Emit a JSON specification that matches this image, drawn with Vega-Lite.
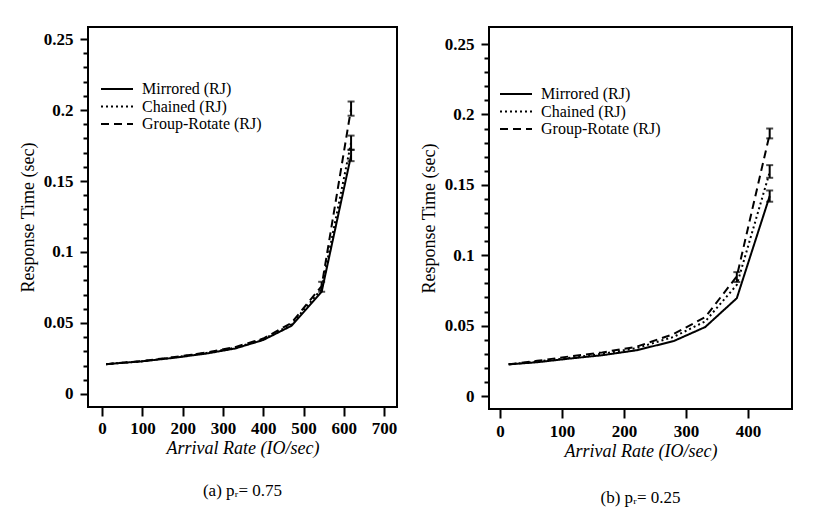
{
  "$schema": "https://vega.github.io/schema/vega-lite/v6.json",
  "background": "white",
  "padding": {"left": 18, "top": 26, "right": 5, "bottom": 5},
  "spacing": 21,
  "config": {
    "font": "Liberation Serif",
    "view": {"stroke": "black", "strokeWidth": 2},
    "axis": {
      "domain": false,
      "grid": false,
      "tickColor": "black",
      "tickWidth": 2,
      "tickCount": 100,
      "labelOverlap": false,
      "labelBound": false,
      "labelFont": "Liberation Serif",
      "labelFontWeight": "bold",
      "labelFontSize": 17,
      "labelColor": "black",
      "titleFont": "Liberation Serif",
      "titleFontSize": 18,
      "titleFontWeight": "normal",
      "titleColor": "black"
    },
    "legend": {
      "orient": "none",
      "title": null,
      "padding": 0,
      "symbolType": "stroke",
      "symbolSize": 1024,
      "symbolStrokeWidth": 2,
      "symbolStrokeColor": "black",
      "clipHeight": 16,
      "labelFont": "Liberation Serif",
      "labelFontSize": 16,
      "labelColor": "black",
      "labelOffset": 8,
      "rowPadding": 1.5
    },
    "title": {"font": "Liberation Serif", "fontSize": 17, "fontWeight": "normal", "color": "black"}
  },
  "datasets": {
    "a": [
      {"series": "Mirrored (RJ)", "x": 10, "y": 0.021},
      {"series": "Mirrored (RJ)", "x": 100, "y": 0.023},
      {"series": "Mirrored (RJ)", "x": 180, "y": 0.0255},
      {"series": "Mirrored (RJ)", "x": 260, "y": 0.0285},
      {"series": "Mirrored (RJ)", "x": 330, "y": 0.032},
      {"series": "Mirrored (RJ)", "x": 400, "y": 0.038},
      {"series": "Mirrored (RJ)", "x": 470, "y": 0.048},
      {"series": "Mirrored (RJ)", "x": 545, "y": 0.072},
      {"series": "Mirrored (RJ)", "x": 618, "y": 0.168},
      {"series": "Chained (RJ)", "x": 10, "y": 0.021},
      {"series": "Chained (RJ)", "x": 100, "y": 0.023},
      {"series": "Chained (RJ)", "x": 180, "y": 0.0258},
      {"series": "Chained (RJ)", "x": 260, "y": 0.029},
      {"series": "Chained (RJ)", "x": 330, "y": 0.0325},
      {"series": "Chained (RJ)", "x": 400, "y": 0.0385},
      {"series": "Chained (RJ)", "x": 470, "y": 0.049},
      {"series": "Chained (RJ)", "x": 545, "y": 0.074},
      {"series": "Chained (RJ)", "x": 618, "y": 0.177},
      {"series": "Group-Rotate (RJ)", "x": 10, "y": 0.021},
      {"series": "Group-Rotate (RJ)", "x": 100, "y": 0.0232},
      {"series": "Group-Rotate (RJ)", "x": 180, "y": 0.026},
      {"series": "Group-Rotate (RJ)", "x": 260, "y": 0.0292},
      {"series": "Group-Rotate (RJ)", "x": 330, "y": 0.033},
      {"series": "Group-Rotate (RJ)", "x": 400, "y": 0.039},
      {"series": "Group-Rotate (RJ)", "x": 470, "y": 0.05},
      {"series": "Group-Rotate (RJ)", "x": 545, "y": 0.076},
      {"series": "Group-Rotate (RJ)", "x": 618, "y": 0.201}
    ],
    "a_err": [
      {"series": "Mirrored (RJ)", "x": 618, "lo": 0.164, "hi": 0.172},
      {"series": "Chained (RJ)", "x": 618, "lo": 0.172, "hi": 0.182},
      {"series": "Group-Rotate (RJ)", "x": 618, "lo": 0.196, "hi": 0.206},
      {"series": "Group-Rotate (RJ)", "x": 545, "lo": 0.072, "hi": 0.079}
    ],
    "b": [
      {"series": "Mirrored (RJ)", "x": 14, "y": 0.0225},
      {"series": "Mirrored (RJ)", "x": 60, "y": 0.024},
      {"series": "Mirrored (RJ)", "x": 110, "y": 0.0265},
      {"series": "Mirrored (RJ)", "x": 165, "y": 0.029},
      {"series": "Mirrored (RJ)", "x": 220, "y": 0.0325},
      {"series": "Mirrored (RJ)", "x": 280, "y": 0.039},
      {"series": "Mirrored (RJ)", "x": 331, "y": 0.049},
      {"series": "Mirrored (RJ)", "x": 382, "y": 0.0695},
      {"series": "Mirrored (RJ)", "x": 435, "y": 0.142},
      {"series": "Chained (RJ)", "x": 14, "y": 0.0225},
      {"series": "Chained (RJ)", "x": 60, "y": 0.0245},
      {"series": "Chained (RJ)", "x": 110, "y": 0.027},
      {"series": "Chained (RJ)", "x": 165, "y": 0.03},
      {"series": "Chained (RJ)", "x": 220, "y": 0.034},
      {"series": "Chained (RJ)", "x": 280, "y": 0.042},
      {"series": "Chained (RJ)", "x": 331, "y": 0.053},
      {"series": "Chained (RJ)", "x": 382, "y": 0.079},
      {"series": "Chained (RJ)", "x": 435, "y": 0.159},
      {"series": "Group-Rotate (RJ)", "x": 14, "y": 0.0225},
      {"series": "Group-Rotate (RJ)", "x": 60, "y": 0.025},
      {"series": "Group-Rotate (RJ)", "x": 110, "y": 0.028},
      {"series": "Group-Rotate (RJ)", "x": 165, "y": 0.031},
      {"series": "Group-Rotate (RJ)", "x": 220, "y": 0.035},
      {"series": "Group-Rotate (RJ)", "x": 280, "y": 0.044},
      {"series": "Group-Rotate (RJ)", "x": 331, "y": 0.056},
      {"series": "Group-Rotate (RJ)", "x": 382, "y": 0.085},
      {"series": "Group-Rotate (RJ)", "x": 435, "y": 0.186}
    ],
    "b_err": [
      {"series": "Mirrored (RJ)", "x": 435, "lo": 0.138, "hi": 0.146},
      {"series": "Chained (RJ)", "x": 435, "lo": 0.155, "hi": 0.164},
      {"series": "Group-Rotate (RJ)", "x": 435, "lo": 0.183, "hi": 0.19},
      {"series": "Group-Rotate (RJ)", "x": 382, "lo": 0.081, "hi": 0.088}
    ]
  },
  "resolve": {"scale": {"strokeDash": "independent"}, "legend": {"strokeDash": "independent"}},
  "hconcat": [
    {
      "width": 309,
      "height": 380,
      "title": {"text": "(a) pᵣ= 0.75", "orient": "bottom", "offset": 26},
      "layer": [
        {
          "data": {"name": "a"},
          "mark": {"type": "line", "color": "black", "strokeWidth": 2},
          "encoding": {
            "x": {"field": "x", "type": "quantitative", "title": "Arrival Rate (IO/sec)",
              "scale": {"domain": [-35, 732], "nice": false, "zero": false},
              "axis": {"values": [0, 100, 200, 300, 400, 500, 600, 700], "tickSize": 9, "labelPadding": 4, "titlePadding": 3, "titleFontStyle": "italic"}},
            "y": {"field": "y", "type": "quantitative", "title": "Response Time (sec)",
              "scale": {"domain": [-0.0092, 0.2585], "nice": false, "zero": false},
              "axis": {"values": [0, 0.01, 0.02, 0.03, 0.04, 0.05, 0.06, 0.07, 0.08, 0.09, 0.1, 0.11, 0.12, 0.13, 0.14, 0.15, 0.16, 0.17, 0.18, 0.19, 0.2, 0.21, 0.22, 0.23, 0.24, 0.25],
                "format": "~g",
                "labelExpr": "round(datum.value*100) % 5 === 0 ? datum.label : ''",
                "tickSize": {"condition": {"test": "round(datum.value*100) % 5 === 0", "value": 8}, "value": 5},
                "labelPadding": 7, "titlePadding": 6}},
            "strokeDash": {"field": "series", "type": "nominal",
              "scale": {"domain": ["Mirrored (RJ)", "Chained (RJ)", "Group-Rotate (RJ)"], "range": [[1, 0], [2, 3], [8, 5]]},
              "legend": {"legendX": 12, "legendY": 54}}
          }
        },
        {
          "data": {"name": "a_err"},
          "mark": {"type": "errorbar", "ticks": true, "thickness": 2, "size": 7, "color": "black"},
          "encoding": {
            "x": {"field": "x", "type": "quantitative", "title": "Arrival Rate (IO/sec)", "scale": {"domain": [-35, 732], "nice": false, "zero": false}},
            "y": {"field": "lo", "type": "quantitative", "title": "Response Time (sec)", "scale": {"domain": [-0.0092, 0.2585], "nice": false, "zero": false}},
            "y2": {"field": "hi"}
          }
        }
      ]
    },
    {
      "width": 303,
      "height": 382,
      "title": {"text": "(b) pᵣ= 0.25", "orient": "bottom", "offset": 30},
      "layer": [
        {
          "data": {"name": "b"},
          "mark": {"type": "line", "color": "black", "strokeWidth": 2},
          "encoding": {
            "x": {"field": "x", "type": "quantitative", "title": "Arrival Rate (IO/sec)",
              "scale": {"domain": [-17.7, 471], "nice": false, "zero": false},
              "axis": {"values": [0, 100, 200, 300, 400], "tickSize": 9, "labelPadding": 5, "titlePadding": 3, "titleFontStyle": "italic"}},
            "y": {"field": "y", "type": "quantitative", "title": "Response Time (sec)",
              "scale": {"domain": [-0.0092, 0.2621], "nice": false, "zero": false},
              "axis": {"values": [0, 0.01, 0.02, 0.03, 0.04, 0.05, 0.06, 0.07, 0.08, 0.09, 0.1, 0.11, 0.12, 0.13, 0.14, 0.15, 0.16, 0.17, 0.18, 0.19, 0.2, 0.21, 0.22, 0.23, 0.24, 0.25],
                "format": "~g",
                "labelExpr": "round(datum.value*100) % 5 === 0 ? datum.label : ''",
                "tickSize": {"condition": {"test": "round(datum.value*100) % 5 === 0", "value": 8}, "value": 5},
                "labelPadding": 7, "titlePadding": 6}},
            "strokeDash": {"field": "series", "type": "nominal",
              "scale": {"domain": ["Mirrored (RJ)", "Chained (RJ)", "Group-Rotate (RJ)"], "range": [[1, 0], [2, 3], [8, 5]]},
              "legend": {"legendX": 10, "legendY": 59}}
          }
        },
        {
          "data": {"name": "b_err"},
          "mark": {"type": "errorbar", "ticks": true, "thickness": 2, "size": 7, "color": "black"},
          "encoding": {
            "x": {"field": "x", "type": "quantitative", "title": "Arrival Rate (IO/sec)", "scale": {"domain": [-17.7, 471], "nice": false, "zero": false}},
            "y": {"field": "lo", "type": "quantitative", "title": "Response Time (sec)", "scale": {"domain": [-0.0092, 0.2621], "nice": false, "zero": false}},
            "y2": {"field": "hi"}
          }
        }
      ]
    }
  ]
}
